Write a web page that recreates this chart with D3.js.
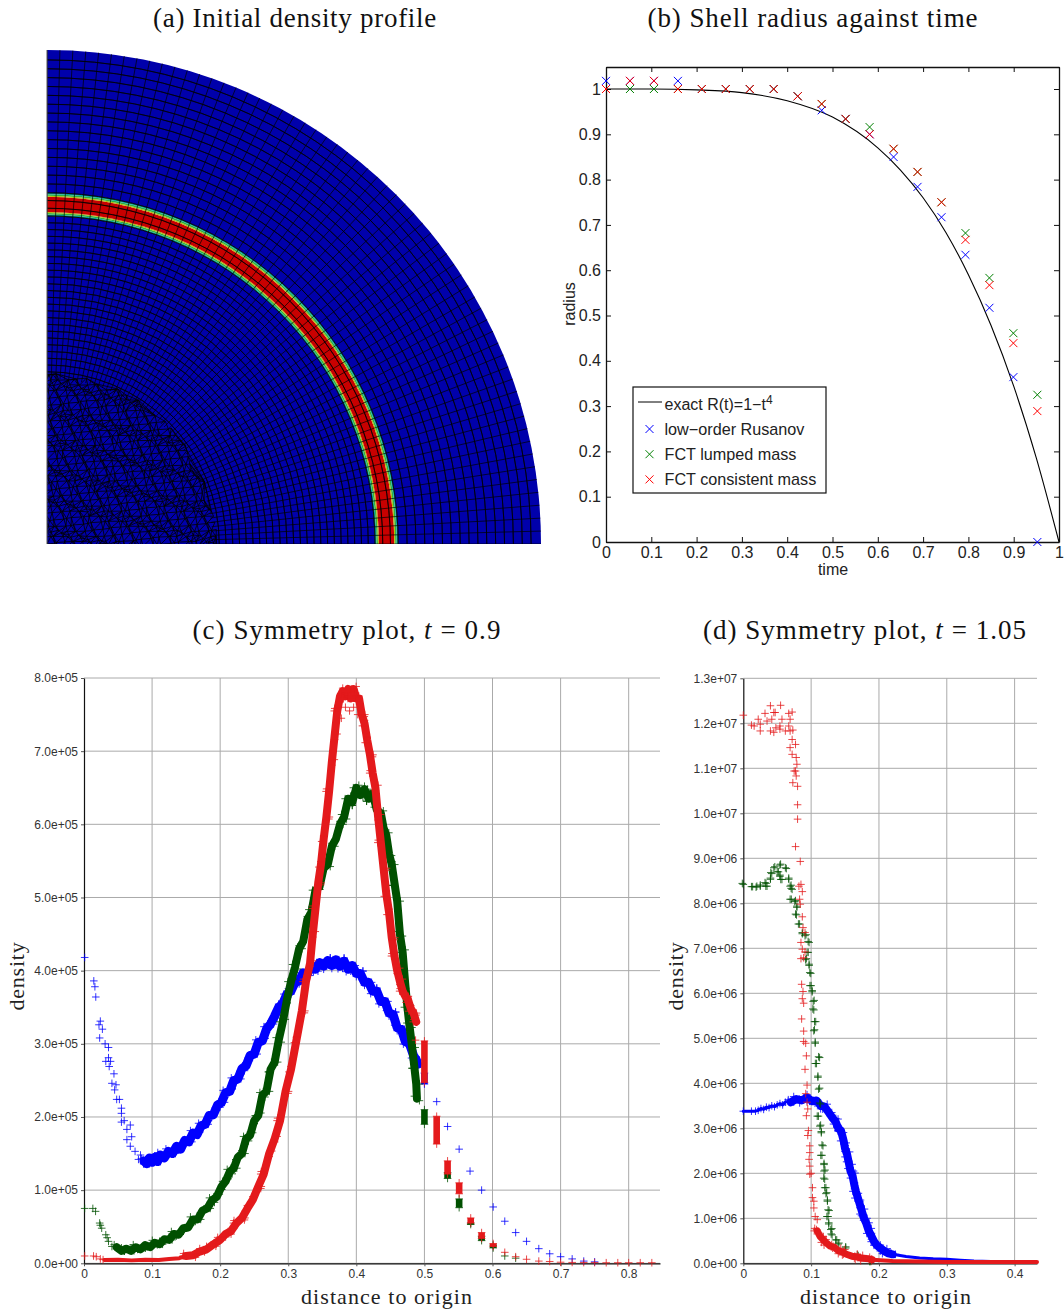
<!DOCTYPE html>
<html>
<head>
  <meta charset="UTF-8">
  <title>Shell collapse figures</title>
  <style>
    body { margin: 0; background: #fff; }
    svg { display: block; }
    .title { font-family: "Liberation Serif", serif; font-size: 27px; fill: #111; text-anchor: middle; }
    .label { font-family: "Liberation Serif", serif; font-size: 22px; fill: #222; text-anchor: middle; }
    .mat text { font-family: "Liberation Sans", sans-serif; font-size: 16px; fill: #222; }
    .sym text { font-family: "Liberation Sans", sans-serif; font-size: 12px; fill: #333; }
  </style>
</head>
<body>
  <svg width="1064" height="1312"></svg>

  <script src="https://d3js.org/d3.v7.min.js"></script>
  <script>
    // (a) mesh, radius as a fraction of the outer boundary
    const bandEdges = [0, 0.664, 0.667, 0.67, 0.672, 0.703, 0.705, 0.708, 0.711, 1];
    const bandColors = ["#0000ab", "#00a49a", "#2fb040", "#b4bc00", "#c80000", "#b4bc00", "#2fb040", "#00a49a", "#0000ab"];
    const meshZones = [[0.335, 0.664, 24], [0.664, 0.711, 3], [0.711, 0.98, 15]]; // from, to, rings
    const meshSectors = 60;
    const coreRadius = 0.345;
    const coreSpacing = 5.8;

    // (b) shell radius
    const exactT = [0, 0.1, 0.2, 0.3, 0.4, 0.5, 0.6, 0.65, 0.7, 0.75, 0.8, 0.85, 0.9, 0.95, 1];
    const exactR = [1, 0.9999, 0.998, 0.992, 0.974, 0.938, 0.87, 0.821, 0.76, 0.684, 0.59, 0.478, 0.344, 0.185, 0];
    const sampleT = [0, 0.0529, 0.1058, 0.1587, 0.2116, 0.2645, 0.3174, 0.3703, 0.4232, 0.4761, 0.529, 0.5819, 0.6348, 0.6877, 0.7406, 0.7935, 0.8464, 0.8993, 0.9522];
    const rusanovR = [1.018, 1.018, 1.018, 1.018, 1.0, 1.0, 1.0, 1.0, 0.984, 0.953, 0.934, 0.9, 0.85, 0.784, 0.717, 0.634, 0.517, 0.364, 0];
    const lumpedR = [1.0, 1.0, 1.0, 1.0, 1.0, 1.0, 1.0, 1.0, 0.984, 0.967, 0.934, 0.916, 0.868, 0.817, 0.75, 0.682, 0.583, 0.461, 0.325];
    const consistentR = [1.0, 1.018, 1.018, 1.0, 1.0, 1.0, 1.0, 1.0, 0.984, 0.967, 0.934, 0.9, 0.868, 0.817, 0.75, 0.667, 0.567, 0.439, 0.289];
    const legendLabels = ["low−order Rusanov", "FCT lumped mass", "FCT consistent mass"];
    const radiusTicks = [0, 0.1, 0.2, 0.3, 0.4, 0.5, 0.6, 0.7, 0.8, 0.9, 1];

    // (c) t = 0.9, density in units of 1e5
    const cYLabels = ["0.0e+00", "1.0e+05", "2.0e+05", "3.0e+05", "4.0e+05", "5.0e+05", "6.0e+05", "7.0e+05", "8.0e+05"];
    const cXTicks = [0, 0.1, 0.2, 0.3, 0.4, 0.5, 0.6, 0.7, 0.8];
    const cBlueBand = [[.088,1.40],[.092,1.36],[.096,1.44],[.1,1.38],[.104,1.45],[.108,1.39],[.112,1.48],[.118,1.44],[.124,1.53],[.13,1.5],[.136,1.6],[.142,1.56],[.148,1.68],[.154,1.66],[.16,1.78],[.166,1.76],[.172,1.88],[.178,1.9],[.184,2.02],[.19,2.03],[.196,2.16],[.202,2.2],[.208,2.33],[.214,2.35],[.22,2.5],[.226,2.52],[.232,2.66],[.238,2.7],[.244,2.84],[.25,2.86],[.256,3.02],[.262,3.04],[.268,3.2],[.274,3.27],[.28,3.38],[.286,3.5],[.292,3.55],[.298,3.68],[.304,3.72],[.31,3.84],[.316,3.86],[.322,3.97],[.328,3.96],[.334,4.05],[.34,4.02],[.346,4.11],[.352,4.06],[.358,4.14],[.364,4.07],[.37,4.15],[.376,4.06],[.382,4.13],[.388,4.02],[.394,4.07],[.4,3.96],[.406,3.96],[.412,3.84],[.418,3.84],[.424,3.72],[.43,3.72],[.436,3.58],[.442,3.58],[.448,3.42],[.454,3.4],[.46,3.22],[.466,3.2],[.472,3.03],[.478,3.0],[.484,2.84],[.488,2.78],[.49,2.72]];
    const cBlueLeft = [[.001,4.18],[.0144,3.86],[.016,3.78],[.0173,3.64],[.024,3.31],[.022,3.26],[.027,3.2],[.023,3.08],[.031,3.0],[.036,2.95],[.036,2.81],[.032,2.76],[.039,2.76],[.037,2.69],[.044,2.59],[.041,2.46],[.047,2.44],[.045,2.37],[.048,2.24],[.052,2.24],[.055,2.12],[.055,2.05],[.059,1.95],[.055,1.93],[.068,1.89],[.063,1.83],[.07,1.73],[.063,1.69],[.068,1.6],[.075,1.53],[.083,1.48],[.08,1.42],[.09,1.39]];
    const cBlueTail = [[.518,2.21],[.534,1.87],[.551,1.56],[.567,1.26],[.584,1.0],[.601,.77],[.618,.575],[.634,.42],[.65,.3],[.668,.2],[.684,.13],[.7,.09],[.717,.06],[.734,.03],[.75,.02]];
    const cBlueStacks = [[.5,2.45,2.6]];
    const cGreenBand = [[.048,.22],[.055,.17],[.062,.2],[.069,.17],[.076,.22],[.083,.19],[.09,.25],[.097,.22],[.104,.28],[.111,.26],[.118,.33],[.125,.32],[.132,.4],[.139,.39],[.146,.48],[.153,.49],[.16,.6],[.167,.6],[.174,.72],[.181,.75],[.188,.86],[.195,.91],[.202,1.05],[.208,1.12],[.214,1.25],[.22,1.3],[.226,1.45],[.232,1.5],[.238,1.7],[.244,1.75],[.25,1.95],[.256,2.02],[.262,2.3],[.268,2.35],[.274,2.65],[.28,2.75],[.286,3.05],[.292,3.3],[.298,3.6],[.304,3.85],[.31,4.05],[.316,4.3],[.322,4.4],[.328,4.7],[.334,4.8],[.34,5.1],[.346,5.15],[.352,5.4],[.358,5.45],[.364,5.7],[.37,5.8],[.376,6.0],[.382,6.1],[.388,6.35],[.394,6.3],[.4,6.5],[.406,6.4],[.412,6.48],[.418,6.35],[.424,6.42],[.43,6.2],[.436,6.15],[.44,5.95],[.444,5.85],[.448,5.6],[.452,5.45],[.456,5.2],[.46,4.95],[.464,4.5],[.468,4.25],[.472,3.8],[.475,3.5],[.478,3.25],[.482,2.95],[.485,2.7],[.488,2.45],[.489,2.25]];
    const cGreenLeft = [[.001,.75],[.013,.75],[.017,.71],[.023,.55],[.024,.52],[.026,.48],[.032,.39],[.034,.35],[.036,.30],[.041,.23]];
    const cGreenTail = [[.618,.1],[.634,.07]];
    const cGreenStacks = [[.5,1.9,2.1],[.534,1.16,1.24],[.551,.76,.88],[.568,.53,.55],[.584,.31,.37],[.601,.21,.25]];
    const cRedFoot = [[.03,.045],[.05,.05],[.07,.04],[.09,.05],[.11,.045],[.125,.06],[.14,.07],[.15,.1]];
    const cRedBand = [[.15,.1],[.16,.11],[.17,.16],[.18,.19],[.19,.26],[.2,.32],[.208,.4],[.216,.44],[.224,.55],[.232,.62],[.24,.75],[.248,.87],[.256,1.05],[.264,1.22],[.272,1.5],[.28,1.7],[.288,1.95],[.296,2.35],[.304,2.65],[.312,3.05],[.32,3.45],[.326,3.85],[.332,4.1],[.336,4.5],[.34,4.85],[.344,5.2],[.348,5.45],[.352,5.8],[.356,6.1],[.36,6.45],[.364,6.85],[.368,7.2],[.372,7.55],[.376,7.75],[.38,7.82],[.384,7.75],[.388,7.85],[.392,7.72],[.396,7.85],[.4,7.72],[.404,7.72],[.408,7.5],[.412,7.38],[.416,7.15],[.42,6.95],[.424,6.7],[.428,6.5],[.432,6.1],[.436,5.75],[.44,5.4],[.444,5.05],[.448,4.8],[.452,4.45],[.456,4.2],[.46,4.0],[.464,3.85],[.468,3.72],[.472,3.65],[.476,3.6],[.48,3.48],[.484,3.42],[.488,3.3]];
    const cRedLeft = [[.001,.1],[.014,.1],[.018,.09],[.024,.06],[.028,.05],[.384,7.6],[.39,7.55],[.396,7.6],[.378,7.45],[.402,7.5],[.487,3.05]];
    const cRedTail = [[.618,.15],[.634,.09],[.65,.055],[.668,.03],[.684,.025],[.7,.015],[.717,.012],[.734,.01],[.75,.01],[.767,.008],[.784,.008],[.8,.008],[.817,.008],[.834,.008]];
    const cRedStacks = [[.5,2.47,3.04],[.518,1.63,2.01],[.534,1.22,1.40],[.551,.95,1.10],[.568,.55,.62],[.584,.34,.42],[.601,.23,.27]];

    // (d) t = 1.05, density in units of 1e6
    const dYLabels = ["0.0e+00", "1.0e+06", "2.0e+06", "3.0e+06", "4.0e+06", "5.0e+06", "6.0e+06", "7.0e+06", "8.0e+06", "9.0e+06", "1.0e+07", "1.1e+07", "1.2e+07", "1.3e+07"];
    const dXTicks = [0, 0.1, 0.2, 0.3, 0.4];
    const dBlueBand = [[.07,3.58],[.078,3.65],[.086,3.62],[.094,3.68],[.102,3.6],[.108,3.62],[.114,3.5],[.12,3.48],[.126,3.35],[.132,3.22],[.136,3.15],[.14,3.0],[.144,2.95],[.148,2.72],[.15,2.55],[.153,2.42],[.156,2.2],[.158,2.05],[.161,1.95],[.164,1.72],[.166,1.6],[.169,1.45],[.172,1.3],[.175,1.15],[.178,1.0],[.181,.9],[.185,.72],[.189,.6],[.193,.48],[.197,.4],[.202,.34],[.208,.27],[.214,.22],[.22,.2]];
    const dBlueTail = [[.22,.2],[.24,.15],[.26,.12],[.28,.1],[.3,.09],[.32,.07],[.34,.05],[.365,.04]];
    const dBlueLeft = [[0,3.38],[.012,3.38],[.018,3.38],[.022,3.4],[.026,3.44],[.03,3.42],[.034,3.47],[.038,3.46],[.042,3.5],[.046,3.48],[.05,3.52],[.054,3.55],[.058,3.52],[.062,3.58],[.066,3.6]];
    const dGreenPoints = [[0,8.42],[.012,8.37],[.02,8.38],[.025,8.38],[.032,8.46],[.035,8.38],[.04,8.56],[.045,8.79],[.042,8.66],[.05,8.7],[.055,8.87],[.054,8.6],[.062,8.79],[.057,8.53],[.067,8.56],[.069,8.38],[.072,8.31],[.069,8.09],[.077,8.06],[.079,7.91],[.077,7.76],[.083,7.54],[.087,7.35],[.091,7.28],[.097,7.13],[.094,6.91],[.093,6.77],[.097,6.62],[.098,6.46],[.1,6.17],[.1015,6.06],[.103,5.82],[.104,5.63],[.105,5.37],[.105,5.19],[.106,4.89],[.111,4.59],[.108,4.44],[.11,4.16],[.111,3.87],[.114,3.54],[.109,3.27],[.114,3.07],[.115,2.9],[.116,2.63],[.116,2.4],[.119,2.22],[.119,2.05],[.12,1.87],[.12,1.68],[.123,1.57],[.124,1.38],[.125,1.19],[.125,1.04],[.126,.9],[.129,.75],[.131,.63],[.136,.52],[.141,.45],[.151,.34],[.168,.19],[.188,.04]];
    const dRedPoints = [[0,12.18],[.012,11.96],[.016,11.94],[.022,12.09],[.025,11.98],[.025,11.83],[.032,12.22],[.04,12.39],[.035,12.05],[.045,12.24],[.042,12.09],[.047,12.24],[.04,11.83],[.045,11.8],[.048,11.9],[.054,11.94],[.055,12.4],[.057,12.09],[.054,11.87],[.062,11.83],[.067,11.94],[.069,12.09],[.072,12.25],[.067,12.22],[.073,11.85],[.069,11.83],[.072,11.64],[.077,11.53],[.069,11.46],[.072,11.31],[.078,11.24],[.079,11.09],[.077,10.94],[.075,10.94],[.078,10.83],[.073,10.68],[.08,10.6],[.08,10.19],[.08,9.87],[.077,9.26],[.084,8.93],[.085,8.42],[.082,8.38],[.087,8.26],[.083,8.09],[.084,7.98],[.087,7.7],[.088,7.46],[.091,7.35],[.085,7.13],[.087,6.98],[.091,6.92],[.085,6.77],[.089,6.79],[.086,6.2],[.088,6.04],[.087,5.88],[.089,5.78],[.086,5.43],[.089,5.16],[.089,4.93],[.092,4.89],[.093,4.61],[.091,4.31],[.094,3.96],[.092,3.77],[.094,3.58],[.095,3.43],[.093,3.28],[.096,2.95],[.095,2.84],[.098,2.61],[.098,2.46],[.097,2.31],[.098,2.16],[.1,2.0],[.098,1.98],[.102,1.68],[.102,1.46],[.104,1.38],[.104,1.23],[.106,1.04],[.109,.97],[.108,.75]];
    const dRedBand = [[.109,.72],[.113,.6],[.118,.52],[.122,.46],[.128,.38],[.134,.36],[.14,.28],[.146,.25],[.152,.2],[.16,.16],[.168,.14],[.176,.11],[.185,.1],[.19,.08]];
    const dRedTail = [[.19,.08],[.22,.05],[.26,.04],[.3,.03],[.36,.03],[.433,.03]];

    const BLUE = "#0000ff", GREEN = "#005000", RED = "#e41a1c";
    const svg = d3.select("svg");

    // the originals are set in Computer Modern, which runs wider: space out to the same width
    function fitWidth(t, width) {
      const len = t.node().getComputedTextLength();
      t.style("letter-spacing", `${(width - len) / t.text().length}px`);
    }
    function titleText(x, y, width, text, math) {
      const t = svg.append("text").attr("class", "title").attr("x", x).attr("y", y);
      t.append("tspan").text(text);
      if (math) {
        t.append("tspan").attr("font-style", "italic").text(" t");
        t.append("tspan").text(math);
      }
      fitWidth(t, width);
    }
    titleText(295, 27, 284, "(a) Initial density profile");
    titleText(813, 27, 331, "(b) Shell radius against time");
    titleText(347, 639, 309, "(c) Symmetry plot,", " = 0.9");
    titleText(865, 639, 324, "(d) Symmetry plot,", " = 1.05");

    // ---- (a) ----
    const gA = svg.append("g").attr("transform", "translate(47,544)");
    const rA = d3.scaleLinear().domain([0, 1]).range([0, 494]);
    svg.append("clipPath").attr("id", "quarter").append("rect")
      .attr("x", 0).attr("y", -494).attr("width", 494).attr("height", 494);
    const arcA = d3.arc().startAngle(0).endAngle(Math.PI / 2);
    bandColors.forEach((c, i) => {
      gA.append("path").attr("fill", c)
        .attr("d", arcA({ innerRadius: rA(bandEdges[i]), outerRadius: rA(bandEdges[i + 1]) }));
    });
    const meshG = gA.append("g").attr("clip-path", "url(#quarter)")
      .attr("fill", "none").attr("stroke", "#000").attr("stroke-width", 0.9).attr("stroke-opacity", 0.78);
    meshZones.forEach(([from, to, n]) => {
      d3.range(1, n + 1).forEach(i => {
        const r = rA(from + (to - from) * i / n);
        meshG.append("path").attr("d", d3.arc()({ innerRadius: r, outerRadius: r, startAngle: 0, endAngle: Math.PI / 2 }));
      });
    });
    d3.range(meshSectors + 1).forEach(i => {
      const a = Math.PI / 2 * i / meshSectors;
      meshG.append("line")
        .attr("x1", rA(0.335) * Math.sin(a)).attr("y1", -rA(0.335) * Math.cos(a))
        .attr("x2", rA(1) * Math.sin(a)).attr("y2", -rA(1) * Math.cos(a));
    });
    // unstructured core: triangulate a warped lattice (mesh texture, not plotted data)
    const nodes = [];
    d3.range(-40, 41).forEach(j => d3.range(-40, 41).forEach(i => {
      const u = (i + (j % 2) / 2) * coreSpacing, v = j * coreSpacing * 0.87;
      const p = [u + 2.6 * Math.sin(v * 0.91 + u * 0.37), v + 2.6 * Math.sin(u * 1.03 - v * 0.41)];
      if (Math.hypot(p[0], p[1]) < rA(coreRadius)) nodes.push(p);
    }));
    const delaunay = d3.Delaunay.from(nodes);
    const coreEdges = d3.range(delaunay.halfedges.length).filter(e => delaunay.halfedges[e] > e).map(e => {
      const a = delaunay.triangles[e], b = delaunay.triangles[e % 3 === 2 ? e - 2 : e + 1];
      return `M${nodes[a]}L${nodes[b]}`;
    });
    meshG.append("path").attr("d", coreEdges.join("")).attr("stroke-width", 1).attr("stroke-opacity", 0.8);
    gA.append("line").attr("x1", 0).attr("x2", 0).attr("y1", 0).attr("y2", -494)
      .attr("stroke", "#555").attr("stroke-width", 1);

    // ---- (b) ----
    const xB = d3.scaleLinear().domain([0, 1]).range([606, 1059]);
    const yB = d3.scaleLinear().domain([0, 1.0486]).range([542, 67]);
    const fmtB = d => d === 0 ? "0" : d === 1 ? "1" : d3.format(".1f")(d);
    const gB = svg.append("g").attr("class", "mat");
    function axisB(axis, tx, ty, size, labels) {
      const a = gB.append("g").attr("transform", `translate(${tx},${ty})`)
        .call(axis.tickValues(radiusTicks).tickSize(size).tickSizeOuter(0).tickPadding(5).tickFormat(labels ? fmtB : ""));
      a.selectAll("path").attr("stroke", "#111").attr("stroke-width", 1.3);
      a.selectAll("line").attr("stroke", "#111");
      a.selectAll("text").attr("font-family", null).attr("font-size", null);
    }
    axisB(d3.axisBottom(xB), 0, 542, -5, true);
    axisB(d3.axisBottom(xB), 0, 67, 5, false);
    axisB(d3.axisLeft(yB), 606, 0, -5, true);
    axisB(d3.axisRight(yB), 1059, 0, -5, false);
    gB.selectAll("text").attr("fill", "#222");
    gB.append("text").attr("x", 833).attr("y", 575).attr("text-anchor", "middle").text("time");
    gB.append("text").attr("transform", "translate(575,304) rotate(-90)").attr("text-anchor", "middle").text("radius");

    gB.append("path").datum(d3.zip(exactT, exactR)).attr("fill", "none").attr("stroke", "#000").attr("stroke-width", 1.1)
      .attr("d", d3.line().x(d => xB(d[0])).y(d => yB(d[1])).curve(d3.curveMonotoneX));

    function crosses(g, pts, color) {
      g.append("g").selectAll("path").data(pts).join("path")
        .attr("transform", d => `translate(${d[0]},${d[1]})`)
        .attr("d", "M-4,-4L4,4M-4,4L4,-4")
        .attr("fill", "none").attr("stroke", color).attr("stroke-width", 1);
    }
    [[rusanovR, BLUE], [lumpedR, "#008000"], [consistentR, "#ff0000"]].forEach(([vals, color]) => {
      crosses(gB, sampleT.map((t, i) => [xB(t), yB(vals[i])]), color);
    });

    const legend = gB.append("g");
    legend.append("rect").attr("x", 633).attr("y", 387).attr("width", 193).attr("height", 106)
      .attr("fill", "#fff").attr("stroke", "#111").attr("stroke-width", 1.2);
    legend.append("line").attr("x1", 638).attr("x2", 662).attr("y1", 402).attr("y2", 402).attr("stroke", "#000");
    const lt = legend.append("text").attr("x", 664.5).attr("y", 410);
    lt.append("tspan").text("exact R(t)=1−t");
    lt.append("tspan").attr("dy", -6).style("font-size", "12px").text("4");
    legendLabels.forEach((label, i) => {
      const y = 429 + i * 25.2;
      crosses(legend, [[649.5, y]], [BLUE, "#008000", "#ff0000"][i]);
      legend.append("text").attr("x", 664.5).attr("y", y + 5.5).style("font-size", "16.2px").text(label);
    });

    // ---- (c) and (d) ----
    // many plotted crosses overlap in the bands; each read point is drawn as a small cloud
    const cloudOffsets = [[-2.5, -2.5], [3, 0], [-2, 2.5], [0, -3], [2.5, 2], [-3, 0], [0, 3], [2.5, -2.5]];

    function symmetryPanel(xScale, yScale, xTicks, yLabels, labelX, ylabelX) {
      const g = svg.append("g").attr("class", "sym");
      const [x0, x1] = xScale.range();
      const [y0, y1] = yScale.range();
      const grid = g.append("g").attr("stroke", "#aaa").attr("stroke-width", 1);
      yLabels.forEach((_, i) => grid.append("line").attr("x1", x0).attr("x2", x1).attr("y1", yScale(i)).attr("y2", yScale(i)));
      xTicks.slice(1).forEach(t => grid.append("line").attr("x1", xScale(t)).attr("x2", xScale(t)).attr("y1", y0).attr("y2", y1));

      const ax = g.append("g").attr("transform", `translate(0,${y0})`)
        .call(d3.axisBottom(xScale).tickValues(xTicks).tickSize(3).tickSizeOuter(0).tickPadding(3).tickFormat(d => d === 0 ? "0" : d3.format(".1f")(d)));
      const ay = g.append("g").attr("transform", `translate(${x0},0)`)
        .call(d3.axisLeft(yScale).tickValues(d3.range(yLabels.length)).tickSize(3).tickSizeOuter(0).tickPadding(3).tickFormat((d, i) => yLabels[i]));
      [ax, ay].forEach(a => {
        a.selectAll("path").attr("stroke", "#111").attr("stroke-width", 1.2);
        a.selectAll("line").attr("stroke", "#555");
        a.selectAll("text").attr("font-family", null).attr("font-size", null).attr("fill", "#333");
      });

      const xl = svg.append("text").attr("class", "label").attr("x", labelX).attr("y", 1304).text("distance to origin");
      fitWidth(xl, 172);
      const yl = svg.append("text").attr("class", "label").attr("transform", `translate(${ylabelX},976) rotate(-90)`).text("density");
      fitWidth(yl, 69);

      const marks = g.append("g");
      const band = (pts, color, width) => marks.append("path").datum(pts)
        .attr("fill", "none").attr("stroke", color).attr("stroke-width", width)
        .attr("stroke-linejoin", "round").attr("stroke-linecap", "round")
        .attr("d", d3.line().x(d => xScale(d[0])).y(d => yScale(d[1])));
      const plus = (pts, color, arm = 3.8) => marks.append("g").selectAll("path").data(pts).join("path")
        .attr("transform", d => `translate(${xScale(d[0])},${yScale(d[1])})`)
        .attr("d", `M${-arm},0H${arm}M0,${-arm}V${arm}`)
        .attr("fill", "none").attr("stroke", color).attr("stroke-width", 1).attr("stroke-opacity", 0.8);
      const cloud = (pts, color, k = 1) => marks.append("g").selectAll("path").data(pts).join("path")
        .attr("transform", (d, i) => {
          const o = cloudOffsets[i % cloudOffsets.length];
          return `translate(${xScale(d[0]) + k * o[0]},${yScale(d[1]) + k * o[1]})`;
        })
        .attr("d", "M-3.8,0H3.8M0,-3.8V3.8")
        .attr("fill", "none").attr("stroke", color).attr("stroke-width", 1).attr("stroke-opacity", 0.8);
      const fat = (pts, color, width) => {
        band(pts, color, width);
        cloud(pts, color);
        cloud(pts.slice().reverse(), color);
      };
      const stacks = (rows, color) => {
        marks.append("g").selectAll("rect").data(rows).join("rect")
          .attr("x", d => xScale(d[0]) - 3.3).attr("width", 6.6)
          .attr("y", d => yScale(d[2])).attr("height", d => yScale(d[1]) - yScale(d[2]))
          .attr("fill", color);
        plus(rows.flatMap(d => [[d[0], d[1]], [d[0], d[2]]]), color);
      };
      return { band, plus, cloud, fat, stacks };
    }

    const xC = d3.scaleLinear().domain([0, 0.846]).range([84, 660]);
    const yC = d3.scaleLinear().domain([0, 8]).range([1263.3, 678]);
    const c = symmetryPanel(xC, yC, cXTicks, cYLabels, 387, 24);
    c.fat(cBlueBand, BLUE, 9); c.plus(cBlueLeft, BLUE); c.plus(cBlueTail, BLUE); c.stacks(cBlueStacks, BLUE);
    c.fat(cGreenBand, GREEN, 8); c.plus(cGreenLeft, GREEN); c.plus(cGreenTail, GREEN); c.stacks(cGreenStacks, GREEN);
    c.band(cRedFoot, RED, 4); c.fat(cRedBand, RED, 8); c.plus(cRedLeft, RED); c.plus(cRedTail, RED); c.stacks(cRedStacks, RED);

    const xD = d3.scaleLinear().domain([0, 0.433]).range([743.3, 1037]);
    const yD = d3.scaleLinear().domain([0, 13]).range([1263.3, 678.3]);
    const d = symmetryPanel(xD, yD, dXTicks, dYLabels, 886, 683);
    d.fat(dBlueBand, BLUE, 8); d.band(dBlueTail, BLUE, 3); d.band(dBlueLeft, BLUE, 3); d.plus(dBlueLeft, BLUE);
    d.plus(dGreenPoints, GREEN); d.cloud(dGreenPoints, GREEN, 0.4);
    d.plus(dRedPoints, RED); d.fat(dRedBand, RED, 7); d.band(dRedTail, RED, 4);
  </script>
</body>
</html>
